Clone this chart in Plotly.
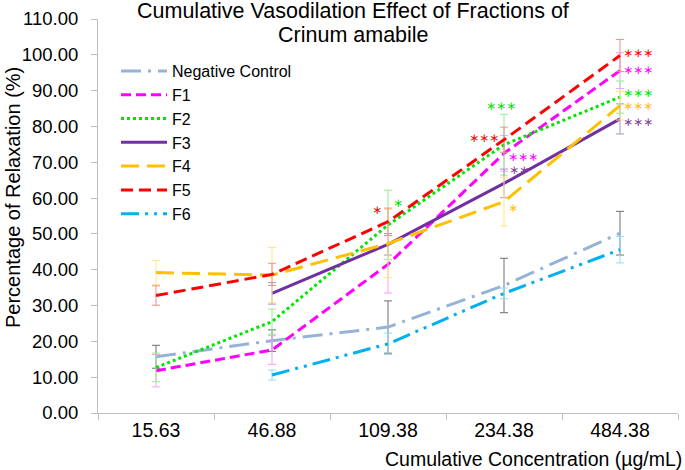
import plotly.graph_objects as go

concentrations = ["15.63", "46.88", "109.38", "234.38", "484.38"]

series_names = ["Negative Control", "F1", "F2", "F3", "F4", "F5", "F6"]

nc_values = [15.7, 20.2, 24.0, 35.6, 50.2]
f1_values = [11.8, 17.6, 41.5, 72.5, 95.6]
f2_values = [12.7, 25.5, 52.5, 74.9, 88.2]
f3_values = [None, 33.4, 47.1, 64.1, 82.1]
f4_values = [39.2, 38.5, 47.3, 59.0, 85.8]
f5_values = [32.8, 38.7, 53.4, 76.3, 99.8]
f6_values = [None, 10.6, 19.3, 33.4, 45.6]

nc_errors = [3.2, 3.0, 7.3, 7.6, 6.1]
f1_errors = [4.5, 4.0, 8.0, 5.0, 5.0]
f2_errors = [4.0, 3.5, 9.7, 8.5, 4.5]
f3_errors = [0, 3.0, 3.0, 4.0, 4.2]
f4_errors = [3.4, 7.7, 9.5, 6.8, 4.0]
f5_errors = [2.7, 3.1, 3.8, 3.5, 4.5]
f6_errors = [0, 1.4, 3.0, 1.5, 3.7]

nc_sig = ["", "", "", "", ""]
f1_sig = ["", "", "", "***", "***"]
f2_sig = ["", "", "*", "***", "***"]
f3_sig = ["", "", "", "**", "***"]
f4_sig = ["", "", "", "*", "***"]
f5_sig = ["", "", "*", "***", "***"]
f6_sig = ["", "", "", "", ""]

y_ticks = [0, 10, 20, 30, 40, 50, 60, 70, 80, 90, 100, 110]

title_lines = ["Cumulative Vasodilation Effect of Fractions of", "Crinum amabile"]

values = [nc_values, f1_values, f2_values, f3_values, f4_values, f5_values, f6_values]
errors = [nc_errors, f1_errors, f2_errors, f3_errors, f4_errors, f5_errors, f6_errors]
sigs = [nc_sig, f1_sig, f2_sig, f3_sig, f4_sig, f5_sig, f6_sig]

line_colors = ["#95B3D7", "#FF00FF", "#00E600", "#7030A0", "#FFC000", "#FF0000", "#00B0F0"]
err_colors = ["#6F6F6F", "#FF99FF", "#8CF08C", "#A894BE", "#FFE680", "#F08C8C", "#8FDDF5"]
sig_colors = ["#95B3D7", "#FF00FF", "#00E600", "#7F3F98", "#FFC000", "#FF0000", "#00B0F0"]
dashes = ["20px,7px,3px,7px", "10px,5px", "dot", "solid", "18px,8px", "12px,6px",
          "18px,6px,3px,6px,3px,6px"]

# annotation pixel offsets (style) per series per category
sig_shift = {
    2: {2: (10, 22), 3: (-3, 39), 4: (18, 4)},
    5: {2: (-11, 12), 3: (-20, 2), 4: (18, 3)},
    1: {3: (19, -4), 4: (18, 1)},
    3: {3: (15, 13), 4: (18, -3)},
    4: {3: (9, -6), 4: (18, 0)},
}

FONT = "Liberation Sans, Arial, sans-serif"
L, T, R, B = 98, 19, 678, 413
PW, PH = R - L, B - T


def px(xp):
    return (xp - L) / PW


def py(yp):
    return (B - yp) / PH


fig = go.Figure()
for i, name in enumerate(series_names):
    fig.add_trace(go.Scatter(
        x=concentrations, y=values[i], name=name, mode="lines",
        line=dict(color=line_colors[i], width=3, dash=dashes[i]),
        error_y=dict(type="data", array=errors[i], visible=True,
                     color=err_colors[i], thickness=1, width=4),
    ))

for i in range(len(series_names)):
    for j, s in enumerate(sigs[i]):
        if s:
            dx, dy = sig_shift[i][j]
            fig.add_annotation(
                x=j, y=values[i][j], xref="x", yref="y",
                text=s.replace("*", "∗"), showarrow=False,
                xshift=dx, yshift=dy,
                font=dict(family="DejaVu Sans", size=12, color=sig_colors[i]),
            )

# title (two lines placed separately for tight line spacing)
for line, yc in zip(title_lines, [11, 35]):
    fig.add_annotation(
        x=px(353), y=py(yc), xref="paper", yref="paper", text=line,
        showarrow=False, xanchor="center", yanchor="middle",
        font=dict(family=FONT, size=21.5, color="#000000"),
    )

fig.add_annotation(
    x=px(684), y=py(459), xref="paper", yref="paper",
    text="Cumulative Concentration (µg/mL)",
    showarrow=False, xanchor="right", yanchor="middle",
    font=dict(family=FONT, size=19.5, color="#000000"),
)

fig.add_annotation(
    x=px(13), y=py(198), xref="paper", yref="paper",
    text="Percentage of Relaxation (%)", textangle=-90, showarrow=False,
    xanchor="center", yanchor="middle",
    font=dict(family=FONT, size=20, color="#000000"),
)

fig.update_layout(
    width=685, height=470,
    margin=dict(l=L, r=685 - R, t=T, b=470 - B),
    paper_bgcolor="white", plot_bgcolor="white",
    font=dict(family=FONT, size=18, color="#000000"),
    showlegend=True,
    legend=dict(x=px(116), y=py(54), xanchor="left", yanchor="top",
                bgcolor="rgba(0,0,0,0)", font=dict(family=FONT, size=16),
                itemwidth=46, tracegroupgap=0),
)

fig.update_xaxes(
    type="category", range=[-0.5, 4.5], showgrid=False,
    showline=True, linecolor="#BFBFBF", linewidth=1,
    ticks="outside", ticklen=6, tickcolor="#BFBFBF", tickson="boundaries",
    tickfont=dict(family=FONT, size=19.5), zeroline=False,
)
fig.update_yaxes(
    range=[0, 110], tickvals=y_ticks, tickformat=".2f", showgrid=False,
    showline=True, linecolor="#BFBFBF", linewidth=1,
    ticks="outside", ticklen=6, tickcolor="#BFBFBF", ticklabelstandoff=9,
    tickfont=dict(family=FONT, size=18.5), zeroline=False,
)

fig.write_html("out.html",
               config={"displayModeBar": False},
               post_script="document.body.style.margin='0';document.body.style.padding='0';")
